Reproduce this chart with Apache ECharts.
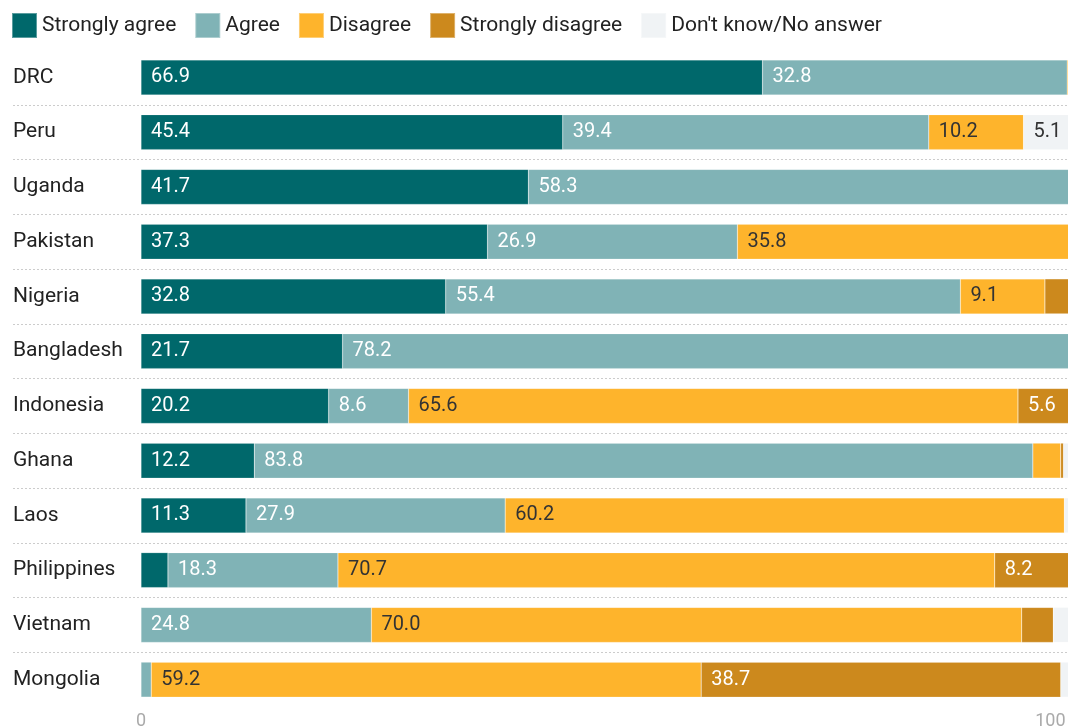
<!DOCTYPE html>
<html>
<head>
<meta charset="utf-8">
<script src="https://cdn.jsdelivr.net/npm/echarts@6/dist/echarts.min.js"></script>
<style>html,body{margin:0;padding:0;background:#fff;}#c{width:1068px;height:728px;}</style>
</head>
<body>
<div id="c"></div>
<script>
const categories = ['DRC','Peru','Uganda','Pakistan','Nigeria','Bangladesh','Indonesia','Ghana','Laos','Philippines','Vietnam','Mongolia'];
const stronglyAgree    = [66.9,45.4,41.7,37.3,32.8,21.7,20.2,12.2,11.3,2.9,0,0];
const agree            = [32.8,39.4,58.3,26.9,55.4,78.2,8.6,83.8,27.9,18.3,24.8,1.1];
const disagree         = [0.3,10.2,0,35.8,9.1,0.1,65.6,3.0,60.2,70.7,70.0,59.2];
const stronglyDisagree = [0,0,0,0,2.7,0,5.6,0.3,0,8.2,3.4,38.7];
const dontKnow         = [0,5.1,0,0,0,0,0,0.7,0.6,0,1.8,1.0];
const seriesNames = ['Strongly agree','Agree','Disagree','Strongly disagree',"Don't know/No answer"];
const xTicks = [0, 100];

const colors = ['#00686b','#80b3b6','#feb42c','#cc891d','#f0f3f5'];
const labelColors = ['#ffffff','#ffffff','#333333','#ffffff','#333333'];
const dataSets = [stronglyAgree, agree, disagree, stronglyDisagree, dontKnow];
const FONT = 'Roboto';

const chart = echarts.init(document.getElementById('c'));
const series = dataSets.map((d, i) => ({
  name: seriesNames[i],
  type: 'bar',
  stack: 'total',
  barWidth: 35,
  xAxisIndex: 0, yAxisIndex: 0,
  data: d,
  itemStyle: { color: colors[i], borderColor: 'rgba(255,255,255,0.35)', borderWidth: 0.5 },
  label: {
    show: true,
    position: 'insideLeft',
    distance: 10,
    color: labelColors[i],
    fontFamily: FONT,
    fontSize: 20,
    formatter: p => p.value >= 5 ? p.value.toFixed(1) : ''
  },
  emphasis: { disabled: true }
}));

chart.setOption({
  animation: false,
  backgroundColor: '#fff',
  legend: {
    left: 6, top: 7,
    itemWidth: 25, itemHeight: 25, itemGap: 18,
    icon: 'rect',
    data: seriesNames,
    textStyle: { fontFamily: FONT, fontSize: 21, color: '#222', padding: [0, 0, 5, 0] },
    selectedMode: false
  },
  grid: [
    { left: 141, right: -2, top: 50, bottom: 21, containLabel: false, outerBoundsMode: 'none' },
    { left: 13, right: 0, top: 50, bottom: 21, containLabel: false, outerBoundsMode: 'none' }
  ],
  xAxis: [
    {
      type: 'value', gridIndex: 0, min: xTicks[0], max: xTicks[1], interval: 100,
      axisLine: { show: false }, axisTick: { show: false }, splitLine: { show: false },
      axisLabel: { color: '#aaaaaa', fontFamily: FONT, fontSize: 18, margin: 5, alignMaxLabel: 'right',
        formatter: v => (v === xTicks[1] ? v + ' ' : String(v)) }
    },
    { type: 'value', gridIndex: 1, min: 0, max: 1, show: false }
  ],
  yAxis: [
    {
      type: 'category', gridIndex: 0, data: categories, inverse: true,
      axisLine: { show: false }, axisTick: { show: false }, splitLine: { show: false },
      axisLabel: { align: 'left', margin: 128, color: '#222', fontFamily: FONT, fontSize: 21 }
    },
    {
      type: 'value', gridIndex: 1, min: 0, max: 12, interval: 1,
      axisLine: { show: false }, axisTick: { show: false }, axisLabel: { show: false },
      splitLine: { show: true, showMinLine: false, showMaxLine: false, lineStyle: { type: [2, 2], color: '#cccccc', width: 1 } }
    }
  ],
  series: series
});
</script>
</body>
</html>
